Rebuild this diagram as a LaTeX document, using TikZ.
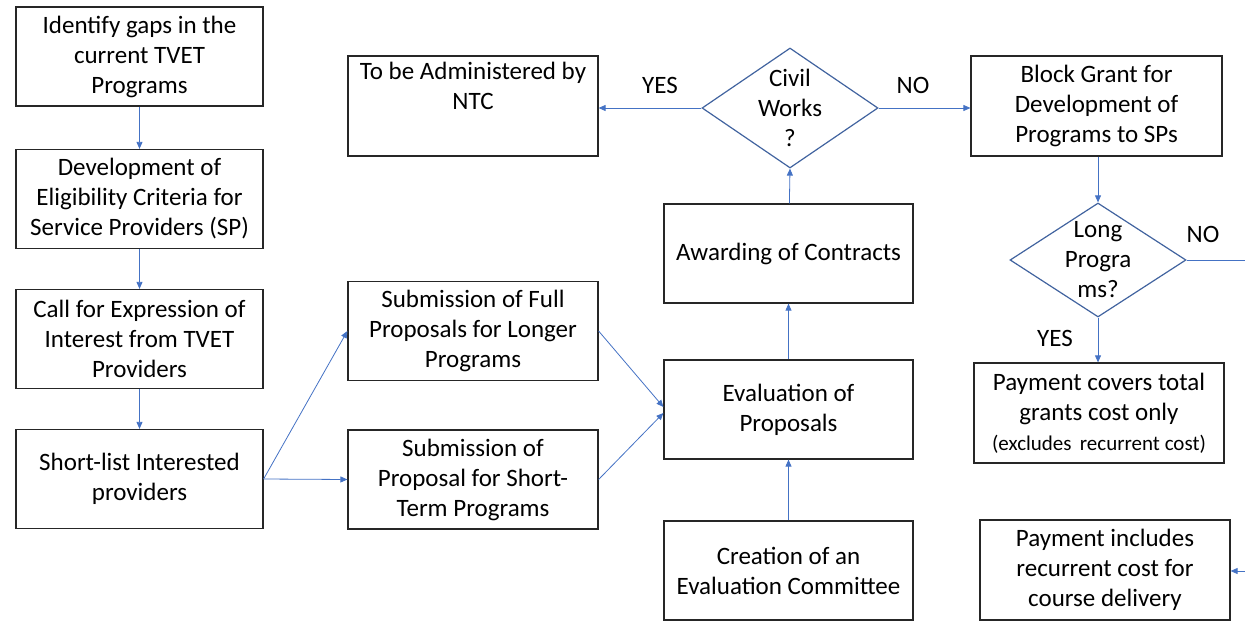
\documentclass[tikz,border=0pt]{standalone}
\usepackage{fontspec}
\setmainfont{Carlito}
\usetikzlibrary{arrows.meta,shapes.geometric}
\definecolor{flowblue}{HTML}{4472C4}
\definecolor{edgeblue}{HTML}{41639F}
\begin{document}
\begin{tikzpicture}[x=1pt,y=-1pt,
  txt/.style={font=\fontsize{25}{30}\selectfont, align=center},
  box/.style={txt, draw=black!85, line width=1.2pt, inner sep=0pt,
              minimum width=249pt, minimum height=99pt},
  decision/.style={diamond, draw=edgeblue, line width=1.2pt, inner sep=0pt,
              minimum width=176pt, minimum height=#1},
  flow/.style={draw=flowblue, line width=0.8pt,
              -{Triangle[length=7pt,width=6pt]}},
  tag/.style={txt, inner sep=0pt}
]
\useasboundingbox (0,0) rectangle (1245,623);

% left column
\node[box, minimum width=247pt] (gaps) at (139.5,56.5)
  {Identify gaps in the\\current TVET\\Programs};
\node[box, minimum width=247pt] (crit) at (139.5,199)
  {Development of\\Eligibility Criteria for\\Service Providers (SP)};
\node[box, minimum width=247pt] (call) at (139.5,339)
  {Call for Expression of\\Interest from TVET\\Providers};
\node[box, minimum width=247pt] (short) at (139.5,479)
  {Short-list Interested\\providers};

% submissions
\node[box, minimum width=250pt] (full) at (473,331)
  {Submission of Full\\Proposals for Longer\\Programs};
\node[box, minimum width=250pt] (stp) at (473,479.5)
  {Submission of\\Proposal for Short-\\Term Programs};

% middle column
\node[box] (eval) at (788.5,409.5) {Evaluation of\\Proposals};
\node[box] (comm) at (788.5,570.5) {Creation of an\\Evaluation Committee};
\node[box] (award) at (788.5,253.5) {Awarding of Contracts};
\node[decision=120pt, label={[txt]center:Civil\\Works\\?}] (civil) at (790,108) {};
\node[box, minimum width=250pt, minimum height=100pt] (ntc) at (473,106) {};
\node[tag, anchor=north] (ntctext) at (473,62) {To be Administered by\\NTC};

% right column
\node[box, minimum width=251pt, minimum height=100pt] (block) at (1096.5,106)
  {Block Grant for\\Development of\\Programs to SPs};
\node[decision=114pt, label={[txt]center:Long\\Progra\\ms?}] (long) at (1098,260) {};
\node[box, minimum width=250pt, minimum height=100pt] (cover) at (1099,413)
  {Payment covers total\\grants cost only\\{\fontsize{21}{30}\selectfont(excludes\ \,recurrent cost)}};
\node[box, minimum width=250pt, minimum height=100pt] (incl) at (1105,570)
  {Payment includes\\recurrent cost for\\course delivery};

\coordinate (noend) at (1245,260);
\coordinate (inend) at (1245,571);

% branch labels
\node[tag] (yes1) at (660,85) {YES};
\node[tag] (no1) at (913,85) {NO};
\node[tag] (yes2) at (1055,338) {YES};
\node[tag] (no2) at (1203,234) {NO};

% connectors
\draw[flow] (gaps) -- (crit);
\draw[flow] (crit) -- (call);
\draw[flow] (call) -- (short);
\draw[flow] (short.east) -- (full.west);
\draw[flow] (short.east) -- (stp.west);
\draw[flow] (full.east) -- ([yshift=2.5pt]eval.west);
\draw[flow] (stp.east) -- ([yshift=-3.5pt]eval.west);
\draw[flow] (comm) -- (eval);
\draw[flow] (eval) -- (award);
\draw[flow] (award) -- (civil.south);
\draw[flow] (civil.west) -- (ntc.east |- civil.west);
\draw[flow] (civil.east) -- (block.west |- civil.east);
\draw[flow] (block.south -| long.north) -- (long.north);
\draw[flow] (long.south) -- (cover.north -| long.south);
\draw[draw=flowblue, line width=0.8pt] (long.east) -- (noend);
\draw[flow] (inend) -- (incl.east |- inend);
\end{tikzpicture}
\end{document}
